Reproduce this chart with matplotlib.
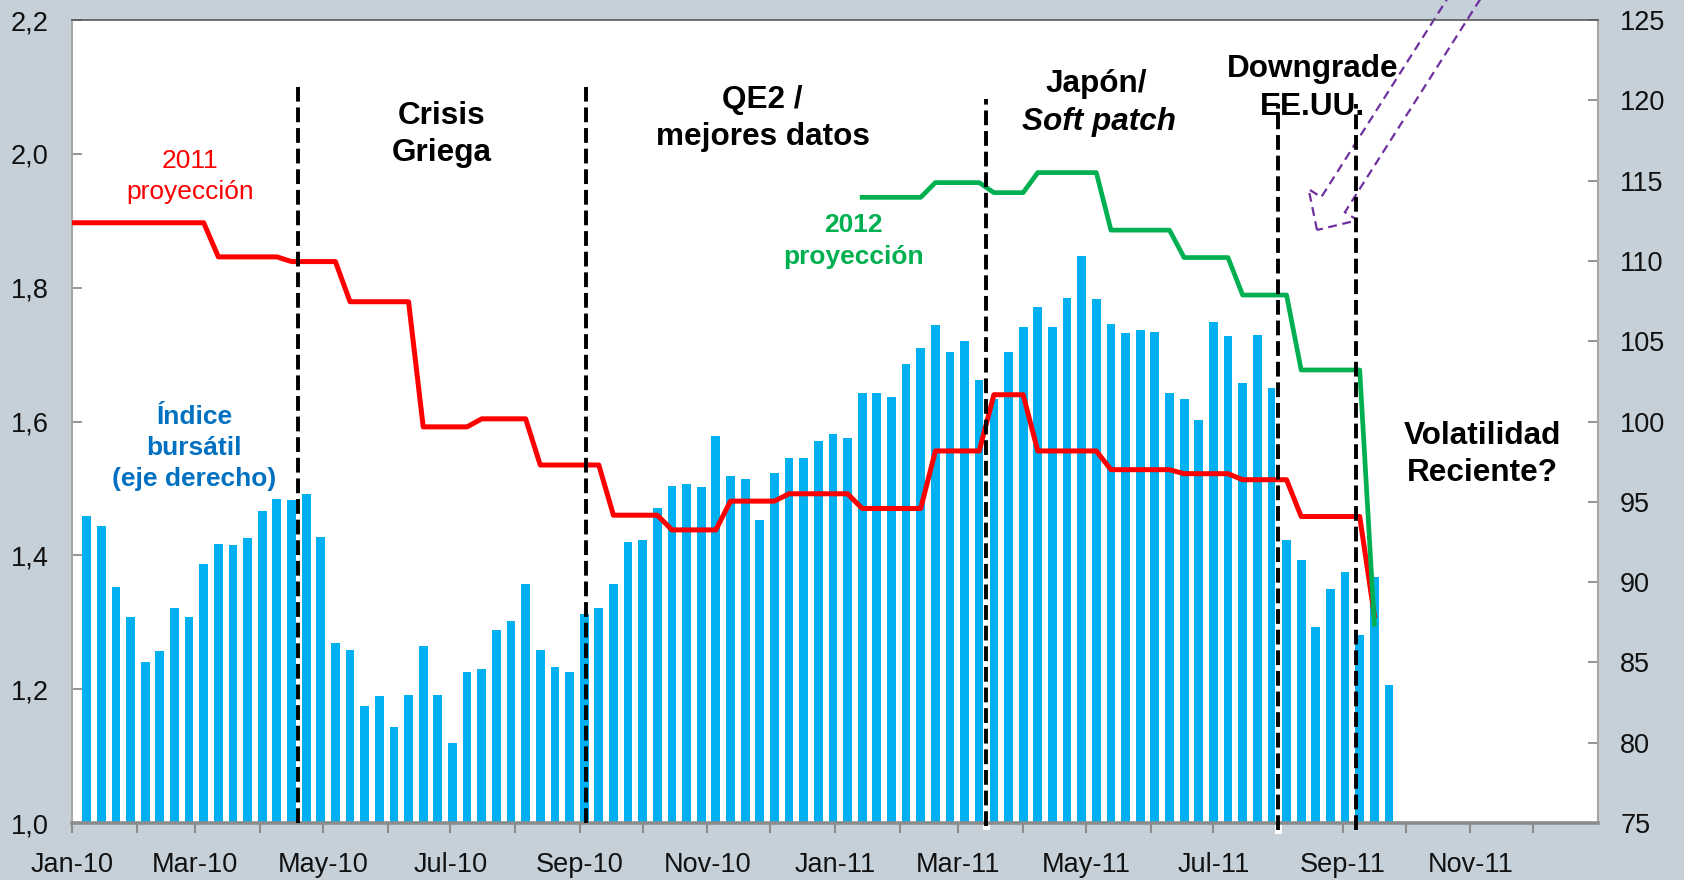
import matplotlib
matplotlib.use("Agg")
import matplotlib.pyplot as plt
import matplotlib.dates as mdates
import matplotlib.transforms as mtransforms
from matplotlib.patches import FancyArrow
from matplotlib.ticker import FuncFormatter, MultipleLocator, FixedLocator
import pandas as pd

plt.rcParams['font.family'] = ['Liberation Sans', 'DejaVu Sans']

# stock index, weekly (right axis)
index_start = "2010-01-08"
stock_index = [94.1, 93.5, 89.7, 87.8, 85.0, 85.7, 88.4, 87.8, 91.1, 92.35,
               92.3, 92.75, 94.4, 95.2, 95.1, 95.5, 92.8, 86.2, 85.8, 82.3,
               82.9, 81.0, 83.0, 86.0, 83.0, 80.0, 84.4, 84.6, 87.0, 87.6,
               89.9, 85.8, 84.7, 84.4, 88.0, 88.4, 89.9, 92.5, 92.6, 94.6,
               96.0, 96.1, 95.9, 99.1, 96.6, 96.4, 93.85, 96.8, 97.7, 97.7,
               98.8, 99.2, 99.0, 101.8, 101.8, 101.5, 103.6, 104.6, 106.0, 104.3,
               105.0, 102.6, 101.4, 104.3, 105.9, 107.1, 105.9, 107.7, 110.3, 107.6,
               106.1, 105.5, 105.7, 105.6, 101.8, 101.4, 100.1, 106.2, 105.3, 102.4,
               105.4, 102.1, 92.6, 91.4, 87.2, 89.6, 90.6, 86.7, 90.3, 83.6]

# growth projection for 2011, weekly (left axis)
proj2011_start = "2010-01-01"
proj_2011 = [1.897, 1.897, 1.897, 1.897, 1.897, 1.897, 1.897, 1.897, 1.897, 1.897,
             1.846, 1.846, 1.846, 1.846, 1.846, 1.839, 1.839, 1.839, 1.839, 1.779,
             1.779, 1.779, 1.779, 1.779, 1.592, 1.592, 1.592, 1.592, 1.604, 1.604,
             1.604, 1.604, 1.535, 1.535, 1.535, 1.535, 1.535, 1.460, 1.460, 1.460,
             1.460, 1.438, 1.438, 1.438, 1.438, 1.481, 1.481, 1.481, 1.481, 1.492,
             1.492, 1.492, 1.492, 1.492, 1.470, 1.470, 1.470, 1.470, 1.470, 1.556,
             1.556, 1.556, 1.556, 1.640, 1.640, 1.640, 1.556, 1.556, 1.556, 1.556,
             1.556, 1.528, 1.528, 1.528, 1.528, 1.528, 1.522, 1.522, 1.522, 1.522,
             1.513, 1.513, 1.513, 1.513, 1.458, 1.458, 1.458, 1.458, 1.458, 1.310]

# growth projection for 2012, weekly (left axis)
proj2012_start = "2011-01-14"
proj_2012 = [1.935, 1.935, 1.935, 1.935, 1.935, 1.957, 1.957, 1.957, 1.957, 1.942,
             1.942, 1.942, 1.972, 1.972, 1.972, 1.972, 1.972, 1.886, 1.886, 1.886,
             1.886, 1.886, 1.845, 1.845, 1.845, 1.845, 1.789, 1.789, 1.789, 1.789,
             1.677, 1.677, 1.677, 1.677, 1.677, 1.297]

# event markers
event_dates = ["2010-04-19", "2010-09-04", "2011-03-14", "2011-08-01", "2011-09-07"]

bar_x = mdates.date2num(pd.date_range(index_start, periods=len(stock_index), freq="7D"))
x2011 = mdates.date2num(pd.date_range(proj2011_start, periods=len(proj_2011), freq="7D"))
x2012 = mdates.date2num(pd.date_range(proj2012_start, periods=len(proj_2012), freq="7D"))
ev_x = mdates.date2num(pd.to_datetime(event_dates))

fig = plt.figure(figsize=(16.84, 8.80), dpi=100, facecolor='#c5d0d8')
ax = fig.add_axes([0.04276, 0.06477, 0.90618, 0.9125])
axr = ax.twinx()

# lines axis on top of the bar axis
ax.set_zorder(axr.get_zorder() + 1)
ax.patch.set_visible(False)
axr.patch.set_visible(True)
axr.patch.set_facecolor('white')

axr.bar(bar_x, stock_index, width=4.2, color='#00b0f0', zorder=2)
axr.set_ylim(75, 125)
axr.yaxis.set_major_locator(MultipleLocator(5))
for s in axr.spines.values():
    s.set_visible(False)
axr.tick_params(axis='y', direction='in', length=7, width=1.3, color='#8c8c8c',
                pad=16, labelsize=19.5, labelcolor='#111111')

ax.plot(x2011, proj_2011, color='#ff0000', lw=3.6, zorder=3)
ax.plot(x2012, proj_2012, color='#00b050', lw=3.4, zorder=3)

# dashed event lines
tops = [2.10, 2.10, 2.082, 2.075, 2.075]
bottoms = [1.0, 1.0, 0.995, 0.99, 0.99]
halo = [False, False, True, True, False]
for x, t, b, h in zip(ev_x, tops, bottoms, halo):
    if h:
        ax.plot([x, x], [b, t], color='white', lw=5, zorder=2.5, clip_on=False)
    ax.plot([x, x], [b, t], color='black', lw=2.8, linestyle=(0, (3.8, 1.5)),
            zorder=5, clip_on=False)

ax.set_ylim(1.0, 2.2)
ax.yaxis.set_major_locator(MultipleLocator(0.2))
ax.yaxis.set_major_formatter(FuncFormatter(lambda v, p: f"{v:.1f}".replace('.', ',')))
ax.set_xlim(mdates.date2num(pd.Timestamp("2010-01-01")), mdates.date2num(pd.Timestamp("2012-01-01")))
ax.xaxis.set_major_locator(FixedLocator(mdates.date2num(pd.date_range("2010-01-01", "2011-11-01", freq="2MS"))))
ax.xaxis.set_minor_locator(FixedLocator(mdates.date2num(pd.date_range("2010-02-01", "2012-01-01", freq="2MS"))))
ax.xaxis.set_major_formatter(mdates.DateFormatter('%b-%y'))
ax.tick_params(axis='x', which='both', direction='out', length=7, width=1.5, color='#8c8c8c',
               pad=14, labelsize=19.5, labelcolor='#111111')
ax.tick_params(axis='y', direction='in', length=7, width=1.3, color='#8c8c8c',
               pad=17, labelsize=19.5, labelcolor='#111111')

ax.spines['left'].set_color('#a6a6a6')
ax.spines['left'].set_linewidth(1.5)
ax.spines['right'].set_color('#a6a6a6')
ax.spines['right'].set_linewidth(1.5)
ax.spines['top'].set_color('#595959')
ax.spines['top'].set_linewidth(1.2)
ax.spines['bottom'].set_color('#8c8c8c')
ax.spines['bottom'].set_linewidth(2.6)

big = dict(transform=ax.transAxes, ha='center', va='center', fontsize=22.7,
           fontweight='bold', color='black', zorder=6, linespacing=1.31)
ax.text(0.242, 0.8573, "Crisis\nGriega", **big)
ax.text(0.4525, 0.877, "QE2 /\nmejores datos", **big)
ax.text(0.671, 0.9205, "Japón/", **big)
ax.text(0.673, 0.8725, "Soft patch", style='italic', **big)
ax.text(0.813, 0.9153, "Downgrade\nEE.UU.", **big)
ax.text(0.924, 0.459, "Volatilidad\nReciente?", **big)

small = dict(transform=ax.transAxes, ha='center', va='center', fontsize=19,
             zorder=6, linespacing=1.38)
ax.text(0.0774, 0.8053, "2011\nproyección", color='#ff0000', **small)
ax.text(0.512, 0.7247, "2012\nproyección", fontweight='bold', color='#00b050', **small)
ax.text(0.0802, 0.4667, "Índice\nbursátil\n(eje derecho)", fontweight='bold',
        color='#0070c0', **small)

# dashed purple block arrow coming from the top right (pixel coords)
arrow = FancyArrow(1479, 905, -162, -255, width=28, head_width=58, head_length=30,
                   length_includes_head=True, fill=False, edgecolor='#7030a0',
                   linestyle=(0, (4, 2.5)), lw=1.6, transform=mtransforms.IdentityTransform())
fig.add_artist(arrow)

fig.savefig("out.png", dpi=100, facecolor=fig.get_facecolor())
